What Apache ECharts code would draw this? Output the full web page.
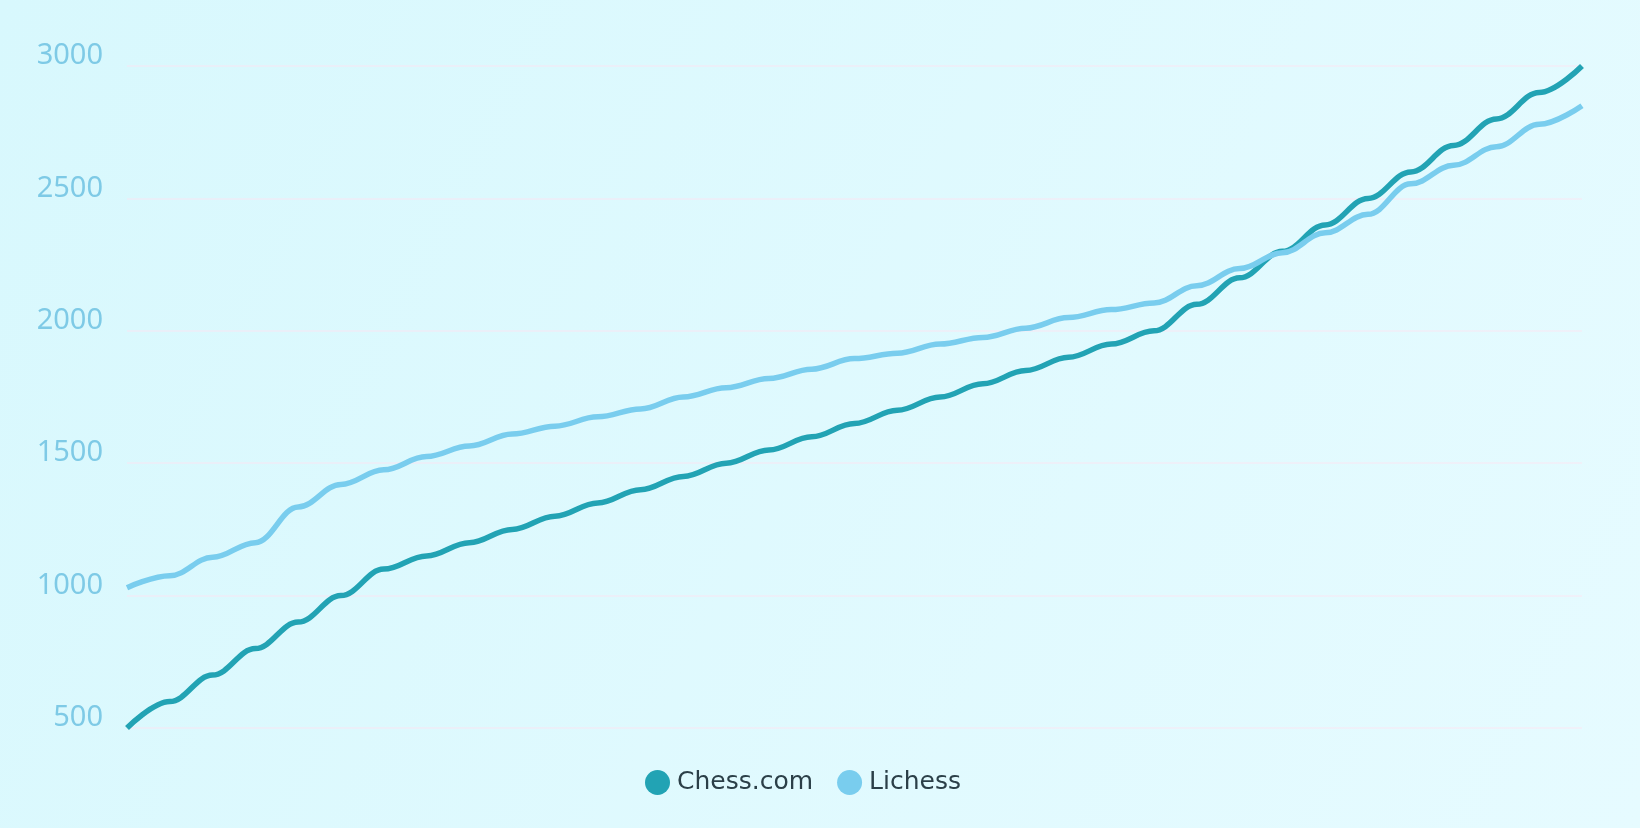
<!DOCTYPE html>
<html>
<head>
<meta charset="utf-8">
<script src="https://cdn.jsdelivr.net/npm/echarts@6/dist/echarts.min.js"></script>
<style>
  html, body { margin: 0; padding: 0; }
  #chart { width: 1640px; height: 828px; }
</style>
</head>
<body>
<div id="chart"></div>
<script>
// rating steps (index along x)
const steps = Array.from({ length: 35 }, (_, i) => String(i + 1));

const chessCom = [
  500, 600, 700, 800, 900, 1000, 1100, 1150, 1200, 1250, 1300, 1350,
  1400, 1450, 1500, 1550, 1600, 1650, 1700, 1750, 1800, 1850, 1900, 1950,
  2000, 2100, 2200, 2300, 2400, 2500, 2600, 2700, 2800, 2900, 3000
];

const lichess = [
  1030, 1075, 1145, 1200, 1335, 1420, 1475, 1525, 1565, 1610, 1640, 1675,
  1705, 1750, 1785, 1820, 1855, 1895, 1915, 1950, 1975, 2010, 2050, 2080,
  2105, 2170, 2235, 2295, 2370, 2440, 2555, 2625, 2695, 2780, 2850
];

const yTicks = [500, 1000, 1500, 2000, 2500, 3000];

const chart = echarts.init(document.getElementById("chart"));

const option = {
  backgroundColor: new echarts.graphic.LinearGradient(0, 0, 1, 1, [
    { offset: 0, color: "#d8f8fd" },
    { offset: 1, color: "#e6fbff" },
  ]),
  color: ["#22a3b4", "#79cdee"],
  grid: { left: 127, right: 58, top: 66, bottom: 100 },
  legend: {
    left: 640,
    top: 765,
    icon: "circle",
    itemWidth: 25,
    itemHeight: 25,
    itemGap: 24,
    textStyle: {
      color: "#2b3f48",
      fontSize: 25,
      fontFamily: "DejaVu Sans",
      padding: [0, 0, 0, 2],
    },
    data: ["Chess.com", "Lichess"],
  },
  xAxis: {
    type: "category",
    data: steps,
    boundaryGap: false,
    show: false,
  },
  yAxis: {
    type: "value",
    min: yTicks[0],
    max: yTicks[yTicks.length - 1],
    interval: 500,
    axisLine: { show: false },
    axisTick: { show: false },
    axisLabel: {
      color: "#7ecae6",
      fontSize: 29,
      fontFamily: "Noto Sans",
      margin: 24,
      verticalAlign: "bottom",
      lineHeight: 20,
      formatter: (v) => String(v),
    },
    splitLine: { lineStyle: { color: "rgba(255,225,240,0.55)", width: 1.5 } },
  },
  series: [
    {
      name: "Chess.com",
      type: "line",
      data: chessCom,
      smooth: 0.38,
      smoothMonotone: "x",
      showSymbol: false,
      lineStyle: { width: 5.5 },
    },
    {
      name: "Lichess",
      type: "line",
      data: lichess,
      smooth: 0.38,
      smoothMonotone: "x",
      showSymbol: false,
      lineStyle: { width: 5.5 },
    },
  ],
};

chart.setOption(option);
</script>
</body>
</html>
